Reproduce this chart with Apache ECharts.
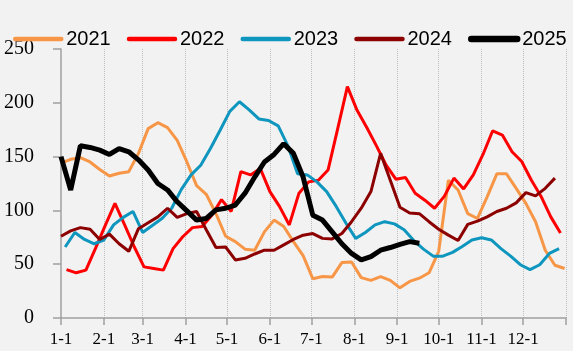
<!DOCTYPE html>
<html>
<head>
<meta charset="utf-8">
<script src="https://cdn.jsdelivr.net/npm/echarts@6/dist/echarts.min.js"></script>
<style>
html, body { margin: 0; padding: 0; background: #F2F2F2; }
#chart { width: 573px; height: 351px; }
</style>
</head>
<body>
<div id="chart"></div>
<script>
// x axis: days of the year, labelled at month starts
var monthLabels = ['1-1', '2-1', '3-1', '4-1', '5-1', '6-1', '7-1', '8-1', '9-1', '10-1', '11-1', '12-1'];
var monthDays = [31, 28, 31, 30, 31, 30, 31, 31, 30, 31, 30, 31];

var years = ['2021', '2022', '2023', '2024', '2025'];
// first day (day-of-year index) of each weekly series
var startDay = [0, 4, 3, 0, 0];

var v2021 = [144, 147.5, 149, 145, 138, 132, 134.5, 136, 153, 176, 181.5, 177, 165, 145, 123, 115, 97, 76, 71, 64,
	63, 80, 91, 85, 71, 58, 36.5, 38.5, 38, 51.5, 52, 37.5, 35, 38.5, 35, 28, 34, 37, 42, 62,
	128, 119, 97, 92.5, 112.5, 134, 134, 120.5, 106.5, 89.5, 63, 49, 46];
var v2022 = [45, 42, 44.5, 65, 86, 106.5, 86.5, 66, 47.5, 46, 44.5, 64.5, 75.5, 84, 85, 95.5, 110, 99, 136, 133,
	139, 117.5, 103.5, 86.5, 116, 126.5, 128, 137.5, 176, 215, 193, 177, 160, 142, 129, 130.5, 116, 109.5, 102, 113,
	130, 120, 133, 152, 174, 170, 154.5, 145.5, 128, 113, 94, 79];
var v2023 = [66, 79.5, 73, 69, 72.5, 86.5, 93.5, 99, 79.5, 86, 92.5, 102, 119.5, 133, 142, 157.5, 174.5, 192, 201, 193.5,
	185, 183.5, 178.5, 160, 134, 133, 126.5, 117.5, 103.5, 88, 74, 79.5, 86.5, 89.5, 87.5, 82, 72, 64, 57.5, 57.5,
	61, 66.5, 72.5, 74.5, 72.5, 64.5, 57.5, 49.5, 45, 49.5, 60, 64.5];
var v2024 = [76, 81, 84, 82.5, 73, 78, 69, 62, 83, 88.5, 94, 102, 93.5, 97, 99, 82, 65.5, 66, 54, 55.5,
	59.5, 63, 63, 68, 73, 77, 78.5, 74, 73.5, 78.5, 89.5, 102, 117.5, 153, 128, 103, 97.5, 97, 89.5, 82.5,
	77, 72, 87, 90, 94, 99, 102, 107, 116.5, 113.5, 120.5, 130];
var v2025 = [150, 119, 160, 158.5, 156, 152, 157.5, 154.5, 147, 137.5, 125, 119, 108, 99.5, 91, 92.5, 100.5, 102, 105, 116,
	131, 145, 152, 162, 153, 131, 95.5, 91, 80, 69, 60, 54, 57, 63, 65.5, 68.5, 71, 69.5];

var colors = ['#F79646', '#FF0000', '#0F96BE', '#8C0000', '#000000'];
var widths = [3, 3, 3, 3, 5];

// day categories and month-start positions
var dayCats = [];
var isMonthStart = {};
for (var m = 0; m < 12; m++) {
	isMonthStart[dayCats.length] = true;
	for (var d = 1; d <= monthDays[m]; d++) {
		dayCats.push(d === 1 ? monthLabels[m] : (m + 1) + '-' + d);
	}
}
var lastDay = dayCats.length;
dayCats.push('');

function showTick(index) {
	return isMonthStart[index] === true || index === lastDay;
}

function weekly(values, start) {
	var out = [];
	for (var i = 0; i < values.length; i++) {
		out.push([start + 7 * i, values[i]]);
	}
	return out;
}

var allValues = [v2021, v2022, v2023, v2024, v2025];
var series = [];
var legendData = [];
for (var k = 0; k < years.length; k++) {
	series.push({
		name : years[k],
		type : 'line',
		data : weekly(allValues[k], startDay[k]),
		showSymbol : false,
		symbol : 'none',
		lineStyle : { color : colors[k], width : widths[k] },
		itemStyle : { color : colors[k] }
	});
	legendData.push({
		name : years[k],
		itemStyle : { opacity : 0 },
		lineStyle : { color : colors[k], width : widths[k] + 1.5, cap : 'round' }
	});
}

var myChart = echarts.init(document.getElementById('chart'));
var option = {
	backgroundColor : '#F2F2F2',
	animation : false,
	legend : {
		left : 13,
		top : 29,
		padding : 0,
		itemWidth : 46,
		itemHeight : 14,
		itemGap : 16,
		textStyle : {
			fontFamily : 'Liberation Sans',
			fontSize : 20,
			color : '#000'
		},
		data : legendData
	},
	grid : {
		left : 61,
		right : 7,
		top : 49,
		bottom : 33
	},
	xAxis : {
		type : 'category',
		boundaryGap : false,
		data : dayCats,
		axisLine : { lineStyle : { color : '#A0A0A0', width : 1.5 } },
		axisTick : {
			interval : showTick,
			length : 7,
			lineStyle : { color : '#A0A0A0', width : 1.5 }
		},
		axisLabel : {
			interval : showTick,
			margin : 13,
			fontFamily : 'Liberation Serif',
			fontSize : 17,
			color : '#000'
		},
		splitLine : {
			show : true,
			interval : function(index) {
				return index !== 0 && showTick(index);
			},
			lineStyle : { color : '#BDBDBD', type : 'dotted', width : 1 }
		}
	},
	yAxis : {
		type : 'value',
		min : 0,
		max : 250,
		interval : 50,
		axisLine : { show : true, lineStyle : { color : '#A0A0A0', width : 1.5 } },
		axisTick : { show : true, length : 8, lineStyle : { color : '#A0A0A0', width : 1.5 } },
		axisLabel : {
			margin : 27,
			fontFamily : 'Liberation Serif',
			fontSize : 20,
			color : '#000'
		},
		splitLine : { show : false }
	},
	series : series
};
myChart.setOption(option);
</script>
</body>
</html>
